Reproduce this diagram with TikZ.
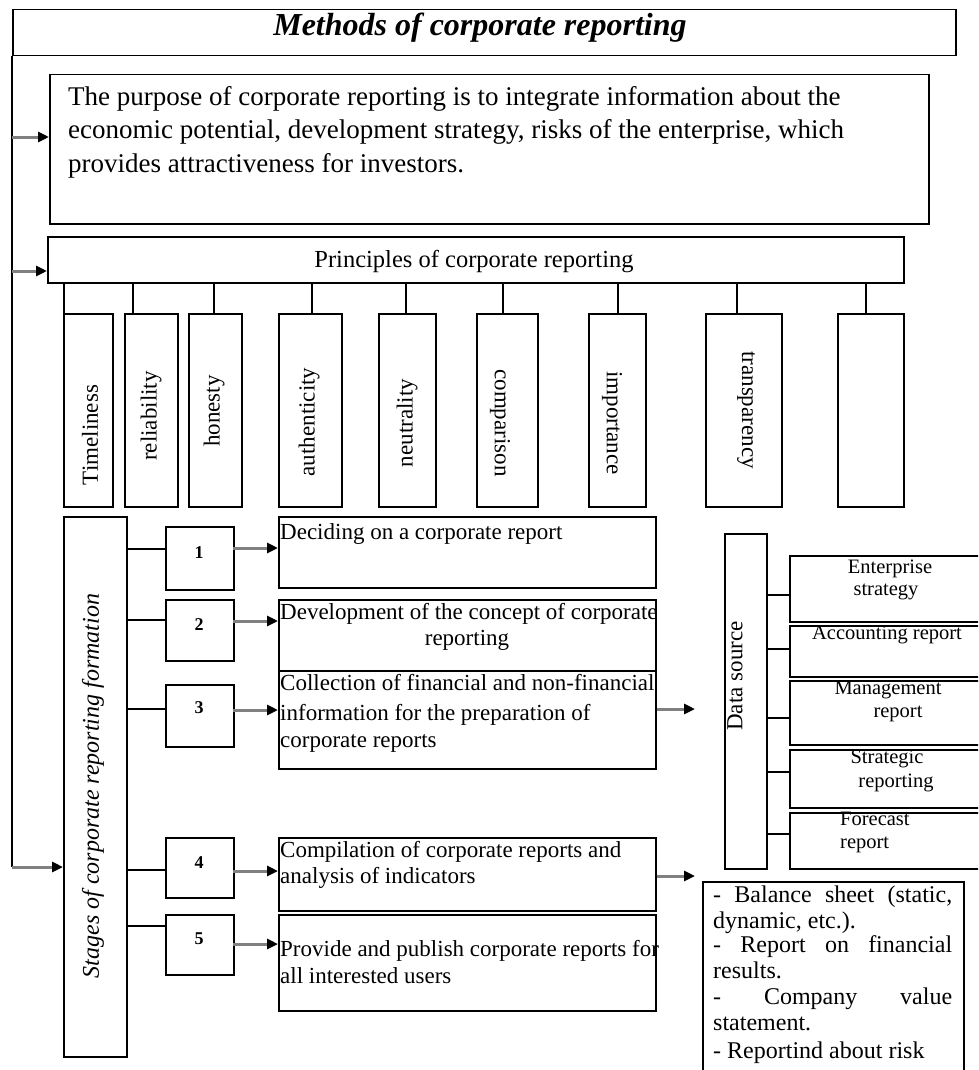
\documentclass[tikz,border=0pt]{standalone}
\usepackage{fontspec}
\setmainfont{Liberation Serif}
\usetikzlibrary{arrows.meta,calc}
\newcommand\fs[1]{\fontsize{#1}{#1}\selectfont}
\newcommand\mybox[6]{\node[box,minimum width=#4pt,minimum height=#5pt,#6] (#1) at (#2,#3) {};}
\begin{document}
\begin{tikzpicture}[x=1pt,y=-1pt,
  box/.style={draw,line width=1.5pt,inner sep=0pt,anchor=north west},
  ln/.style={line width=1.5pt},
  arr/.style={line width=3pt,draw=black!50,-{Triangle[length=11pt,width=10pt,color=black]}},
  tx/.style={inner sep=0pt,anchor=base west},
  tc/.style={inner sep=0pt,anchor=base},
  rt/.style={inner sep=0pt,anchor=center,rotate=90,font=\fs{23}},
  rtm/.style={inner sep=0pt,anchor=center,rotate=-90,font=\fs{23}}]
\useasboundingbox (0,0) rectangle (978,1070);
\clip (0,0) rectangle (978,1070);
\fill[white] (0,0) rectangle (978,1070);

% title
\mybox{title}{12}{9}{943}{46}{}
\node[tc,font=\fs{32}\bfseries\itshape] (titletxt) at (480,36) {Methods of corporate reporting};

% purpose
\mybox{purpose}{49}{74}{879}{149}{}
\node[tx,font=\fs{27}] (pu1) at (68,106) {The purpose of corporate reporting is to integrate information about the};
\node[tx,font=\fs{27}] (pu2) at (68,139) {economic potential, development strategy, risks of the enterprise, which};
\node[tx,font=\fs{27}] (pu3) at (68,172) {provides attractiveness for investors.};

% principles
\mybox{pr}{47}{236}{856}{46}{}
\node[tc,font=\fs{24.5}] (prtxt) at (474,267) {Principles of corporate reporting};

\mybox{tim}{63}{313}{49}{193}{}
\mybox{rel}{124}{313}{53}{193}{}
\mybox{hon}{188}{313}{53}{193}{}
\mybox{aut}{278}{313}{63}{193}{}
\mybox{neu}{378}{313}{57}{193}{}
\mybox{com}{476}{313}{61}{193}{}
\mybox{imp}{588}{313}{57}{193}{}
\mybox{tra}{705}{313}{76}{193}{}
\mybox{emp}{837}{313}{66}{193}{}

\foreach \n/\x in {tim/64,rel/133,hon/214,aut/312,neu/406,com/503,imp/618,tra/737,emp/866}{
  \coordinate (c\n) at (\x,313);
  \draw[ln] (c\n |- pr.south) -- (c\n);
}
\node[rt] (timt) at (90,435) {Timeliness};
\node[rt] (relt) at (151,416) {reliability};
\node[rt] (hont) at (214,411) {honesty};
\node[rt] (autt) at (309,422) {authenticity};
\node[rt] (neut) at (407,423) {neutrality};
\node[rtm] (comt) at (500,423) {comparison};
\node[rtm] (impt) at (612,423) {importance};
\node[rtm] (trat) at (746,410) {transparency};

% trunk
\coordinate (ta) at (12,137);
\coordinate (tp) at (12,271);
\coordinate (tb) at (12,867);
\draw[ln] (title.south west) -- (tb);

% stages
\mybox{stages}{63}{516}{63}{540}{}
\node[rt,font=\fs{24}\itshape] (stt) at (93,786) {Stages of corporate reporting formation};
\draw[arr] (ta) -- (ta -| purpose.west);
\draw[arr] (tp) -- (tp -| pr.west);
\draw[arr] (tb) -- (tb -| stages.west);

% number boxes
\mybox{n1}{165}{526}{68}{63}{}
\mybox{n2}{165}{599}{68}{61}{}
\mybox{n3}{165}{684}{68}{62}{}
\mybox{n4}{165}{837}{68}{60}{}
\mybox{n5}{165}{914}{68}{60}{}
\foreach \i/\y/\ty in {1/549/558,2/620/630,3/709/713,4/870/868,5/926/944}{
  \coordinate (s\i) at (126,\y);
  \draw[ln] (s\i) -- (s\i -| n\i.west);
  \node[tc,font=\fs{18}\bfseries] (n\i t) at (199,\ty) {\i};
}

% text boxes
\mybox{t1}{278}{516}{377}{71}{}
\mybox{t2}{278}{599}{377}{71}{}
\mybox{t3}{278}{670}{377}{98}{}
\mybox{t4}{278}{837}{377}{73}{}
\mybox{t5}{278}{914}{377}{96}{}
\foreach \i/\y in {1/548,2/621,3/710,4/871,5/944}{
  \coordinate (a\i) at (233,\y);
  \draw[arr] (a\i) -- (a\i -| t\i.west);
}
\node[tx,font=\fs{23}] (t1a) at (280,539) {Deciding on a corporate report};
\node[tx,font=\fs{23}] (t2a) at (280,619) {Development of the concept of corporate};
\node[tc,font=\fs{23}] (t2b) at (467,645) {reporting};
\node[tx,font=\fs{23}] (t3a) at (280,690) {Collection of financial and non-financial};
\node[tx,font=\fs{23}] (t3b) at (280,720) {information for the preparation of};
\node[tx,font=\fs{23}] (t3c) at (280,747) {corporate reports};
\node[tx,font=\fs{23}] (t4a) at (280,857) {Compilation of corporate reports and};
\node[tx,font=\fs{23}] (t4b) at (280,883) {analysis of indicators};
\node[tx,font=\fs{23}] (t5a) at (280,956) {Provide and publish corporate reports for};
\node[tx,font=\fs{23}] (t5b) at (280,983) {all interested users};

% data source
\mybox{ds}{724}{533}{42}{335}{}
\node[rt] (dst) at (735,676) {Data source};
\coordinate (d1e) at (695,709);
\draw[arr] (t3.east |- d1e) -- (d1e);

\mybox{rb1}{789}{555}{220}{66}{}
\mybox{rb2}{789}{625}{220}{51}{}
\mybox{rb3}{789}{680}{220}{64}{}
\mybox{rb4}{789}{749}{220}{58}{}
\mybox{rb5}{789}{812}{220}{56}{}
\foreach \i/\y in {1/595,2/649,3/718,4/772,5/834}{
  \coordinate (r\i c) at (789,\y);
  \draw[ln] (ds.east |- r\i c) -- (r\i c);
}
\node[tc,font=\fs{20.5}] (rb1a) at (890,573) {Enterprise};
\node[tc,font=\fs{20.5}] (rb1b) at (886,595) {strategy};
\node[tc,font=\fs{20.5}] (rb2a) at (887,639) {Accounting report};
\node[tc,font=\fs{20.5}] (rb3a) at (888,694) {Management};
\node[tc,font=\fs{20.5}] (rb3b) at (898,717) {report};
\node[tc,font=\fs{20.5}] (rb4a) at (887,763) {Strategic};
\node[tc,font=\fs{20.5}] (rb4b) at (896,787) {reporting};
\node[tx,font=\fs{20.5}] (rb5a) at (840,825) {Forecast};
\node[tx,font=\fs{20.5}] (rb5b) at (840,848) {report};

% list
\mybox{lst}{702}{881}{261}{220}{}
\coordinate (l1e) at (695,876);
\draw[arr] (t4.east |- l1e) -- (l1e);
\node[tx,font=\fs{24}] (l1) at (713,902) {\makebox[239pt][s]{- Balance sheet (static,}};
\node[tx,font=\fs{24}] (l2) at (713,928) {dynamic, etc.).};
\node[tx,font=\fs{24}] (l3) at (713,952) {\makebox[239pt][s]{- Report on financial}};
\node[tx,font=\fs{24}] (l4) at (713,978) {results.};
\node[tx,font=\fs{24}] (l5) at (713,1004) {\makebox[239pt][s]{- Company value}};
\node[tx,font=\fs{24}] (l6) at (713,1030) {statement.};
\node[tx,font=\fs{24}] (l7) at (713,1058) {- Reportind about risk};
\end{tikzpicture}
\end{document}
